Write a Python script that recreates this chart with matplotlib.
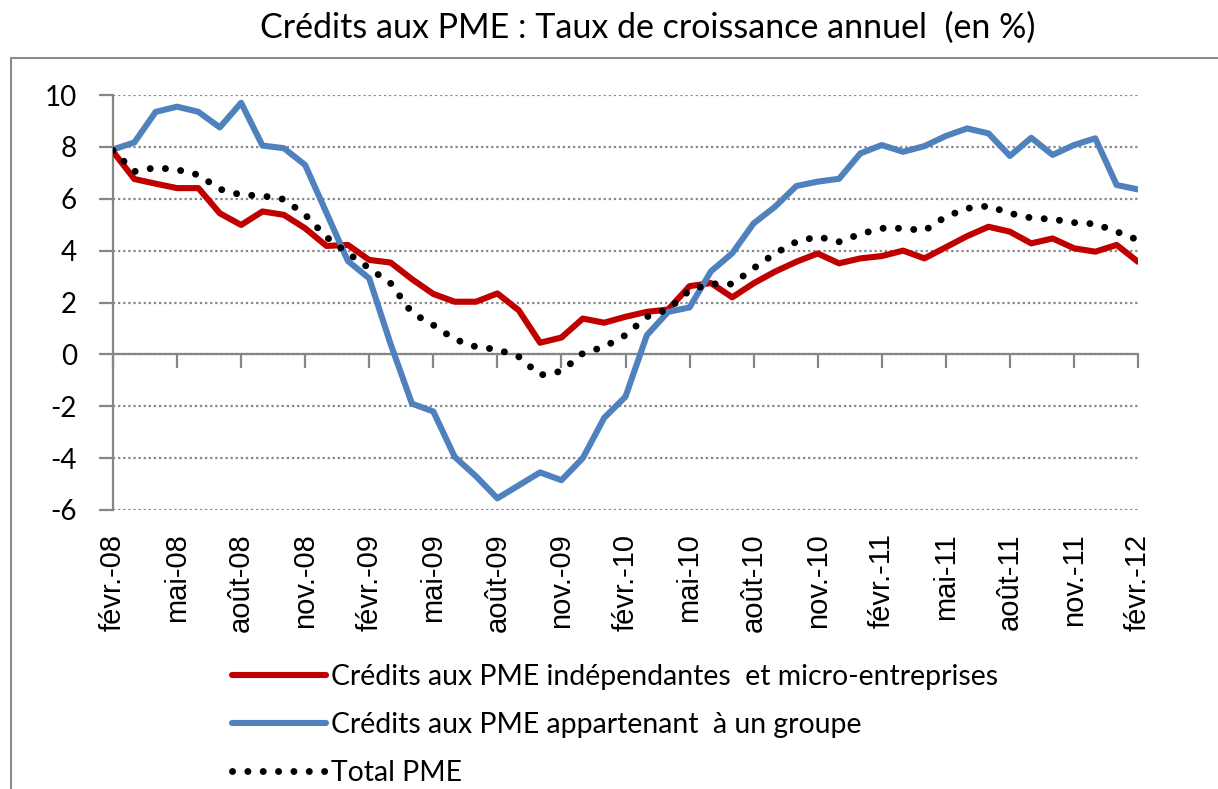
import numpy as np
import matplotlib
matplotlib.use("Agg")
import matplotlib.pyplot as plt
from matplotlib.patches import Rectangle

# monthly growth rates, févr. 2008 -> févr. 2012 (49 months)
tick_labels = ["févr.-08", "mai-08", "août-08", "nov.-08",
               "févr.-09", "mai-09", "août-09", "nov.-09",
               "févr.-10", "mai-10", "août-10", "nov.-10",
               "févr.-11", "mai-11", "août-11", "nov.-11",
               "févr.-12"]

independantes = [7.82, 6.76, 6.58, 6.41, 6.41, 5.44, 4.99, 5.51, 5.38, 4.86,
                 4.18, 4.22, 3.64, 3.54, 2.90, 2.33, 2.03, 2.03, 2.35, 1.70,
                 0.45, 0.65, 1.38, 1.22, 1.45, 1.64, 1.73, 2.63, 2.75, 2.20,
                 2.74, 3.19, 3.57, 3.89, 3.51, 3.70, 3.79, 4.00, 3.70, 4.13,
                 4.56, 4.92, 4.73, 4.28, 4.47, 4.09, 3.96, 4.22, 3.57]

groupe = [7.90, 8.17, 9.35, 9.55, 9.35, 8.75, 9.70, 8.05, 7.95, 7.30,
          5.45, 3.60, 2.93, 0.40, -1.90, -2.20, -3.95, -4.70, -5.55, -5.05,
          -4.55, -4.85, -4.00, -2.45, -1.63, 0.74, 1.64, 1.81, 3.20, 3.90,
          5.05, 5.69, 6.49, 6.66, 6.77, 7.75, 8.07, 7.81, 8.03, 8.42,
          8.71, 8.52, 7.65, 8.35, 7.69, 8.07, 8.33, 6.53, 6.36]

total = [7.86, 7.05, 7.20, 7.12, 6.92, 6.37, 6.15, 6.11, 5.98, 5.38,
         4.52, 3.90, 3.32, 2.74, 1.60, 1.13, 0.58, 0.29, 0.19, -0.09,
         -0.80, -0.65, 0.04, 0.29, 0.74, 1.45, 1.73, 2.47, 2.72, 2.71,
         3.32, 3.89, 4.34, 4.54, 4.34, 4.64, 4.86, 4.86, 4.77, 5.31,
         5.63, 5.72, 5.44, 5.26, 5.21, 5.08, 5.03, 4.73, 4.41]

RED = "#C00000"
BLUE = "#4F81BD"
GRAY = "#868686"
MAIN_FONT = ["Lato", "DejaVu Sans"]

plt.rcParams["axes.unicode_minus"] = False

W, H = 1218, 789
fig = plt.figure(figsize=(W / 100, H / 100), dpi=100)
ax = fig.add_axes([113 / W, 1 - 510 / H, (1138 - 113) / W, (510 - 95) / H])

x = np.arange(len(groupe))
ax.plot(x, independantes, color=RED, lw=4.4, solid_joinstyle="round",
        solid_capstyle="round", zorder=3,
        label="Crédits aux PME indépendantes  et micro-entreprises")
ax.plot(x, groupe, color=BLUE, lw=4.4, solid_joinstyle="round",
        solid_capstyle="round", zorder=4,
        label="Crédits aux PME appartenant  à un groupe")
ax.plot(x, total, color="black", lw=5, linestyle=(0, (0.01, 2.2)),
        dash_capstyle="round", zorder=5, label="Total PME")

ymin, ymax = -6, 10
ax.set_xlim(0, len(groupe) - 1)
ax.set_ylim(ymin, ymax)

# y axis
ax.set_yticks(np.arange(ymin, ymax + 1, 2))
ax.yaxis.grid(True, color=GRAY, linestyle=(0, (1, 1.3)), lw=1.6)
ax.set_axisbelow(True)
ax.tick_params(axis="y", direction="out", length=10, width=1.6, color=GRAY,
               pad=16, labelsize=20)
for lab in ax.get_yticklabels():
    lab.set_family(MAIN_FONT)
for side in ["top", "right", "bottom"]:
    ax.spines[side].set_visible(False)
ax.spines["left"].set_color(GRAY)
ax.spines["left"].set_linewidth(1.6)

# x labels at the bottom, no tick marks there
tick_pos = np.arange(0, len(groupe), 3)
ax.set_xticks(tick_pos)
ax.set_xticklabels(tick_labels, rotation=90, family="Liberation Sans",
                   fontsize=21, va="top", ha="center")
ax.tick_params(axis="x", length=0, pad=17)

# zero axis with tick marks
zero_ax = ax.secondary_xaxis((0 - ymin) / (ymax - ymin))
zero_ax.set_xticks(tick_pos)
zero_ax.set_xticklabels([])
zero_ax.tick_params(axis="x", direction="out", length=10, width=1.6,
                    color=GRAY)
zero_ax.spines["bottom"].set_color(GRAY)
zero_ax.spines["bottom"].set_linewidth(1.6)

# title and chart frame
fig.text(648 / W, 1 - 28 / H,
         "Crédits aux PME : Taux de croissance annuel  (en %)",
         ha="center", va="center", fontsize=24.5, family=MAIN_FONT)
fig.add_artist(Rectangle((11 / W, -0.2), 1.5, 0.2 + 1 - 58 / H,
                         transform=fig.transFigure, fill=False,
                         ec="#8c8c8c", lw=1.5))

leg = fig.legend(loc="upper left", bbox_to_anchor=(232 / W, 1 - 664 / H),
                 frameon=False, borderpad=0, borderaxespad=0,
                 handlelength=3.3, handletextpad=0.2, labelspacing=0.78,
                 prop={"family": MAIN_FONT, "size": 20.4})

fig.savefig("out.png", dpi=100)
